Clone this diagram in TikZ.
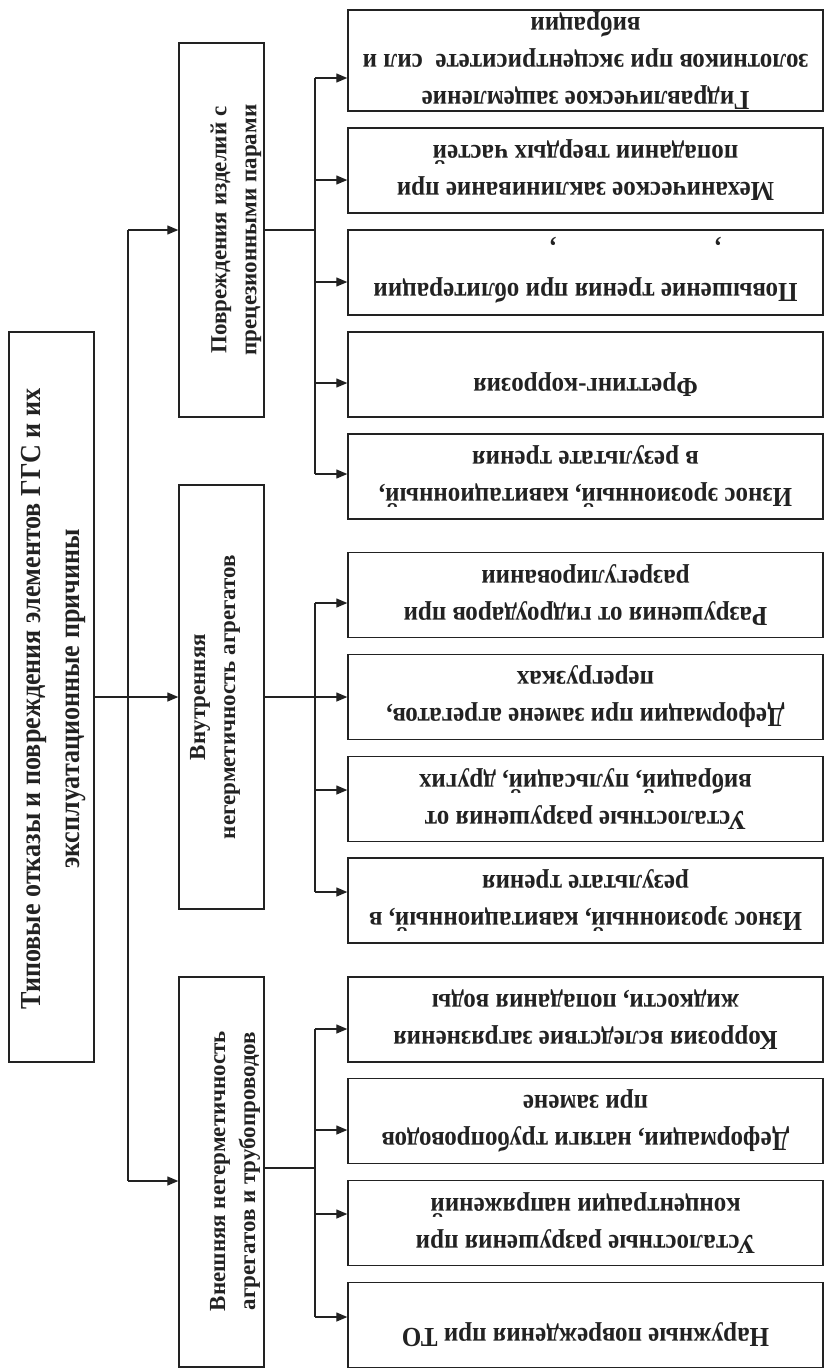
\documentclass[tikz,border=0pt]{standalone}
\usepackage{fontspec}
\setmainfont{Liberation Serif}
\newfontfamily\rfont[FakeStretch=0.91]{Liberation Serif}
\newfontfamily\mfont[FakeStretch=0.9]{Liberation Serif}
\usetikzlibrary{arrows.meta}
\definecolor{ink}{HTML}{222222}
\tikzset{
  rbox/.style={draw=ink, line width=1.4pt, rectangle, inner sep=0pt, minimum width=475pt, minimum height=85pt},
  lbox/.style={draw=ink, line width=1.4pt, rectangle, inner sep=0pt, minimum width=85pt},
  rtext/.style={rotate=180, align=center, inner sep=0pt, text=ink, font=\rfont\bfseries\fontsize{27.5}{37}\selectfont},
  ltext/.style={rotate=90, align=center, inner sep=0pt, text=ink, font=\bfseries\fontsize{23}{30}\selectfont},
  mtext/.style={rotate=90, align=center, inner sep=0pt, text=ink, font=\mfont\bfseries\fontsize{29}{39}\selectfont},
  conn/.style={draw=ink, line width=1.3pt},
  arr/.style={conn, -{Triangle[length=11pt,width=9pt]}}
}
\begin{document}
\begin{tikzpicture}[x=1pt,y=-1pt]
\useasboundingbox (0,0) rectangle (824,1369);
% left column
\node[lbox, minimum height=730pt] (main) at (51.5,697) {};
\node[lbox, minimum height=374pt] (L1) at (221.5,230) {};
\node[lbox, minimum height=424pt] (L2) at (221.5,697) {};
\node[lbox, minimum height=390pt] (L3) at (221.5,1172) {};
\node[mtext] (tm) at (54,699) {Типовые отказы и повреждения элементов ГГС и их\\эксплуатационные причины};
\node[ltext] (tl1) at (236,230) {Повреждения изделий с\\прецезионными парами};
\node[ltext] (tl2) at (215,697) {Внутренняя\\негерметичность агрегатов};
\node[ltext] (tl3) at (235,1171) {Внешняя негерметичность\\агрегатов и трубопроводов};
% right column
\node[rbox, minimum height=101pt] (b1) at (585.5,60.5) {};
\node[rbox] (b2) at (585.5,170.5) {};
\node[rbox] (b3) at (585.5,272.5) {};
\node[rbox] (b4) at (585.5,374.5) {};
\node[rbox] (b5) at (585.5,476.5) {};
\node[rbox] (b6) at (585.5,595) {};
\node[rbox] (b7) at (585.5,697) {};
\node[rbox] (b8) at (585.5,799) {};
\node[rbox] (b9) at (585.5,900.5) {};
\node[rbox] (b10) at (585.5,1019.5) {};
\node[rbox] (b11) at (585.5,1121) {};
\node[rbox] (b12) at (585.5,1223) {};
\node[rbox] (b13) at (585.5,1325) {};
\node[rtext] (t1) at (b1.center) {Гидравлическое защемление\\золотников при эксцентриситете\ \ сил и\\вибрации};
\node[rtext] (t2) at (b2.center) {Механическое заклинивание при\\попадании твердых частей};
\node[rtext] (t3) at ([yshift=-18pt]b3.center) {Повышение трения при облитерации};
\node[rtext] (c1) at (553,241) {,};
\node[rtext] (c2) at (718,241) {,};
\node[rtext] (t4) at ([yshift=-10pt]b4.center) {Фреттинг-коррозия};
\node[rtext] (t5) at (b5.center) {Износ эрозионный, кавитационный,\\в результате трения};
\node[rtext] (t6) at (b6.center) {Разрушения от гидроударов при\\разрегулировании};
\node[rtext] (t7) at (b7.center) {Деформации при замене агрегатов,\\перегрузках};
\node[rtext] (t8) at (b8.center) {Усталостные разрушения от\\вибраций, пульсаций, других};
\node[rtext] (t9) at (b9.center) {Износ эрозионный, кавитационный, в\\результате трения};
\node[rtext] (t10) at (b10.center) {Коррозия вследствие загрязнения\\жидкости, попадания воды};
\node[rtext] (t11) at (b11.center) {Деформации, натяги трубопроводов\\при замене};
\node[rtext] (t12) at (b12.center) {Усталостные разрушения при\\концентрации напряжений};
\node[rtext] (t13) at ([yshift=-10pt]b13.center) {Наружные повреждения при ТО};
% trunk
\coordinate (tt) at (128,230);
\coordinate (tb) at (128,1181);
\draw[arr] (main.east) -- (L2.west);
\draw[conn] (tt) -- (tb);
\draw[arr] (tt) -- (L1.west |- tt);
\draw[arr] (tb) -- (L3.west |- tb);
% group 1
\coordinate (g1t) at (315,78);
\coordinate (g1b) at (315,474);
\draw[conn] (L1.east) -- (L1.east -| g1t);
\draw[conn] (g1t) -- (g1b);
\foreach \yy/\bb in {78/b1,180/b2,282/b3,383/b4,474/b5}{
  \coordinate (j) at (315,\yy);
  \draw[arr] (j) -- (\bb.west |- j);
}
% group 2
\coordinate (g2t) at (315,603);
\coordinate (g2b) at (315,892);
\draw[conn] (L2.east) -- (L2.east -| g2t);
\draw[conn] (g2t) -- (g2b);
\foreach \yy/\bb in {603/b6,697/b7,790/b8,892/b9}{
  \coordinate (j) at (315,\yy);
  \draw[arr] (j) -- (\bb.west |- j);
}
% group 3
\coordinate (g3t) at (315,1029);
\coordinate (g3b) at (315,1317);
\coordinate (g3o) at (264,1168);
\draw[conn] (g3o) -- (g3o -| g3t);
\draw[conn] (g3t) -- (g3b);
\foreach \yy/\bb in {1029/b10,1130/b11,1214/b12,1317/b13}{
  \coordinate (j) at (315,\yy);
  \draw[arr] (j) -- (\bb.west |- j);
}
\end{tikzpicture}
\end{document}
